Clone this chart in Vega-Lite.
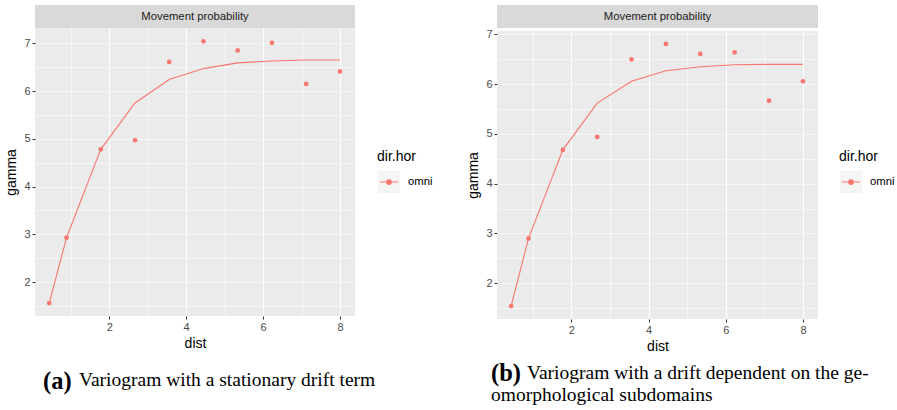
{
  "$schema": "https://vega.github.io/schema/vega-lite/v6.json",
  "padding": {"left": 4, "top": 5, "right": 0, "bottom": 0},
  "background": "white",
  "datasets": {
    "a": [
      {"dist": 0.44, "gamma": 1.56, "model": 1.56, "dirhor": "omni"},
      {"dist": 0.89, "gamma": 2.93, "model": 2.93, "dirhor": "omni"},
      {"dist": 1.78, "gamma": 4.78, "model": 4.78, "dirhor": "omni"},
      {"dist": 2.67, "gamma": 4.97, "model": 5.75, "dirhor": "omni"},
      {"dist": 3.56, "gamma": 6.61, "model": 6.24, "dirhor": "omni"},
      {"dist": 4.45, "gamma": 7.04, "model": 6.47, "dirhor": "omni"},
      {"dist": 5.34, "gamma": 6.85, "model": 6.59, "dirhor": "omni"},
      {"dist": 6.23, "gamma": 7.01, "model": 6.63, "dirhor": "omni"},
      {"dist": 7.12, "gamma": 6.15, "model": 6.65, "dirhor": "omni"},
      {"dist": 8.0, "gamma": 6.41, "model": 6.65, "dirhor": "omni"}
    ],
    "b": [
      {"dist": 0.44, "gamma": 1.54, "model": 1.54, "dirhor": "omni"},
      {"dist": 0.89, "gamma": 2.90, "model": 2.90, "dirhor": "omni"},
      {"dist": 1.78, "gamma": 4.68, "model": 4.68, "dirhor": "omni"},
      {"dist": 2.67, "gamma": 4.94, "model": 5.62, "dirhor": "omni"},
      {"dist": 3.56, "gamma": 6.50, "model": 6.06, "dirhor": "omni"},
      {"dist": 4.45, "gamma": 6.81, "model": 6.27, "dirhor": "omni"},
      {"dist": 5.34, "gamma": 6.61, "model": 6.35, "dirhor": "omni"},
      {"dist": 6.23, "gamma": 6.64, "model": 6.39, "dirhor": "omni"},
      {"dist": 7.12, "gamma": 5.67, "model": 6.40, "dirhor": "omni"},
      {"dist": 8.0, "gamma": 6.06, "model": 6.40, "dirhor": "omni"}
    ]
  },
  "config": {
    "font": "Liberation Sans",
    "view": {"stroke": null},
    "axis": {
      "domain": false,
      "gridColor": "white",
      "tickColor": "#333333",
      "tickSize": 3,
      "labelColor": "#4d4d4d",
      "labelFontSize": 11,
      "labelPadding": 2,
      "labelOverlap": false,
      "titleFontSize": 14,
      "titleFontWeight": "normal",
      "titleColor": "black"
    },
    "axisX": {"titlePadding": 4},
    "axisY": {"titlePadding": 5},
    "legend": {
      "orient": "none",
      "symbolSize": 484,
      "titleFontSize": 14,
      "titleFontWeight": "normal",
      "titleColor": "black",
      "labelFontSize": 11.3,
      "labelColor": "black",
      "labelOffset": 7,
      "titlePadding": 6
    },
    "title": {"font": "Liberation Serif", "fontWeight": "normal", "color": "black"}
  },
  "spacing": 33,
  "resolve": {
    "scale": {"color": "independent", "shape": "independent"},
    "legend": {"color": "independent", "shape": "independent"}
  },
  "hconcat": [
    {
      "spacing": 0,
      "title": {"text": "(a)", "orient": "bottom", "anchor": "start", "frame": "group", "fontSize": 24.5, "fontWeight": "bold", "dx": 8, "dy": -24},
      "vconcat": [
        {
          "width": 320,
          "height": 23,
          "view": {"fill": "#d9d9d9", "stroke": null},
          "data": {"values": [{"label": "Movement probability"}]},
          "mark": {"type": "text", "fontSize": 11.3, "color": "#1a1a1a"},
          "encoding": {"text": {"field": "label"}}
        },
        {
          "width": 320,
          "height": 288,
          "view": {"fill": "#ebebeb", "stroke": null},
          "data": {"name": "a"},
          "title": {"text": "Variogram with a stationary drift term", "orient": "bottom", "anchor": "start", "frame": "group", "fontSize": 19.5, "dx": 44, "offset": 21},
          "encoding": {
            "x": {
              "field": "dist", "type": "quantitative",
              "scale": {"domain": [0.07, 8.39], "nice": false, "zero": false},
              "axis": {
                "title": "dist",
                "values": [1, 2, 3, 4, 5, 6, 7, 8],
                "labelExpr": "datum.value % 2 === 0 ? datum.label : ''",
                "gridWidth": {"condition": {"test": "datum.value % 2 === 0", "value": 1.1}, "value": 0.55},
                "tickOpacity": {"condition": {"test": "datum.value % 2 === 0", "value": 1}, "value": 0}
              }
            },
            "y": {
              "field": "gamma", "type": "quantitative",
              "scale": {"domain": [1.29, 7.32], "nice": false, "zero": false},
              "axis": {
                "title": "gamma",
                "format": "~g",
                "values": [1.5, 2, 2.5, 3, 3.5, 4, 4.5, 5, 5.5, 6, 6.5, 7],
                "labelExpr": "indexof(datum.label, '.') < 0 ? datum.label : ''",
                "gridWidth": {"condition": {"test": "indexof(datum.label, '.') < 0", "value": 1.1}, "value": 0.55},
                "tickOpacity": {"condition": {"test": "indexof(datum.label, '.') < 0", "value": 1}, "value": 0}
              }
            }
          },
          "layer": [
            {
              "mark": {"type": "point", "filled": true, "color": "#f2f2f2", "size": 0},
              "encoding": {
                "shape": {
                  "field": "dirhor", "type": "nominal",
                  "scale": {"range": ["square"]},
                  "legend": {
                    "title": "dir.hor",
                    "titleColor": "transparent",
                    "labelColor": "transparent",
                    "legendX": 342, "legendY": 145,
                    "zindex": 1
                  }
                }
              }
            },
            {
              "mark": {"type": "line", "strokeWidth": 1.1},
              "encoding": {
                "y": {"field": "model", "type": "quantitative"},
                "color": {
                  "field": "dirhor", "type": "nominal",
                  "scale": {"domain": ["omni"], "range": ["#F8766D"]},
                  "legend": {
                    "title": "dir.hor",
                    "legendX": 342, "legendY": 145,
                    "zindex": 2,
                    "symbolType": "M-0.82,0H0.82M-0.21,0A0.21,0.21,0,1,1,0.21,0A0.21,0.21,0,1,1,-0.21,0Z",
                    "encode": {"symbols": {"update": {"fill": {"value": "#F8766D"}, "stroke": {"value": "#F8766D"}, "strokeWidth": {"value": 1.1}, "opacity": {"value": 1}}}}
                  }
                }
              }
            },
            {
              "mark": {"type": "point", "filled": true, "size": 22, "opacity": 1},
              "encoding": {
                "color": {"field": "dirhor", "type": "nominal"}
              }
            }
          ]
        }
      ]
    },
    {
      "spacing": 0,
      "title": {"text": "(b)", "subtitle": "\u00a0\u00a0\u00a0omorphological subdomains", "orient": "bottom", "anchor": "start", "frame": "group", "fontSize": 24.5, "fontWeight": "bold", "subtitleFont": "Liberation Serif", "subtitleFontSize": 19.5, "subtitleColor": "black", "subtitleFontWeight": "normal", "subtitlePadding": 0, "dx": -6, "dy": -25},
      "vconcat": [
        {
          "width": 321,
          "height": 23,
          "view": {"fill": "#d9d9d9", "stroke": null},
          "data": {"values": [{"label": "Movement probability"}]},
          "mark": {"type": "text", "fontSize": 11.3, "color": "#1a1a1a"},
          "encoding": {"text": {"field": "label"}}
        },
        {
          "width": 321,
          "height": 288,
          "view": {"fill": "#ebebeb", "stroke": null},
          "data": {"name": "b"},
          "title": {"text": "Variogram with a drift dependent on the ge-", "orient": "bottom", "anchor": "start", "frame": "group", "fontSize": 19.5, "dx": 30, "offset": 11},
          "encoding": {
            "x": {
              "field": "dist", "type": "quantitative",
              "scale": {"domain": [0.074, 8.39], "nice": false, "zero": false},
              "axis": {
                "title": "dist",
                "values": [1, 2, 3, 4, 5, 6, 7, 8],
                "labelExpr": "datum.value % 2 === 0 ? datum.label : ''",
                "gridWidth": {"condition": {"test": "datum.value % 2 === 0", "value": 1.1}, "value": 0.55},
                "tickOpacity": {"condition": {"test": "datum.value % 2 === 0", "value": 1}, "value": 0}
              }
            },
            "y": {
              "field": "gamma", "type": "quantitative",
              "scale": {"domain": [1.28, 7.07], "nice": false, "zero": false},
              "axis": {
                "title": "gamma",
                "format": "~g",
                "values": [1.5, 2, 2.5, 3, 3.5, 4, 4.5, 5, 5.5, 6, 6.5, 7],
                "labelExpr": "indexof(datum.label, '.') < 0 ? datum.label : ''",
                "gridWidth": {"condition": {"test": "indexof(datum.label, '.') < 0", "value": 1.1}, "value": 0.55},
                "tickOpacity": {"condition": {"test": "indexof(datum.label, '.') < 0", "value": 1}, "value": 0}
              }
            }
          },
          "layer": [
            {
              "mark": {"type": "point", "filled": true, "color": "#f2f2f2", "size": 0},
              "encoding": {
                "shape": {
                  "field": "dirhor", "type": "nominal",
                  "scale": {"range": ["square"]},
                  "legend": {
                    "title": "dir.hor",
                    "titleColor": "transparent",
                    "labelColor": "transparent",
                    "legendX": 342, "legendY": 145,
                    "zindex": 1
                  }
                }
              }
            },
            {
              "mark": {"type": "line", "strokeWidth": 1.1},
              "encoding": {
                "y": {"field": "model", "type": "quantitative"},
                "color": {
                  "field": "dirhor", "type": "nominal",
                  "scale": {"domain": ["omni"], "range": ["#F8766D"]},
                  "legend": {
                    "title": "dir.hor",
                    "legendX": 342, "legendY": 145,
                    "zindex": 2,
                    "symbolType": "M-0.82,0H0.82M-0.21,0A0.21,0.21,0,1,1,0.21,0A0.21,0.21,0,1,1,-0.21,0Z",
                    "encode": {"symbols": {"update": {"fill": {"value": "#F8766D"}, "stroke": {"value": "#F8766D"}, "strokeWidth": {"value": 1.1}, "opacity": {"value": 1}}}}
                  }
                }
              }
            },
            {
              "mark": {"type": "point", "filled": true, "size": 22, "opacity": 1},
              "encoding": {
                "color": {"field": "dirhor", "type": "nominal"}
              }
            }
          ]
        }
      ]
    }
  ]
}
